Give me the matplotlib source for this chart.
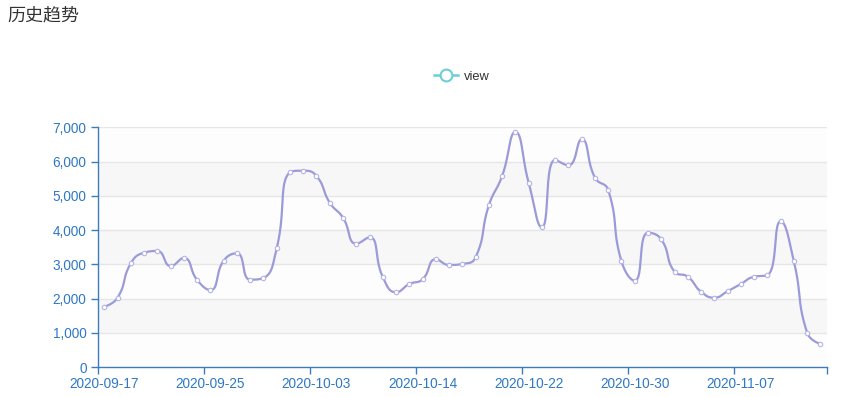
import numpy as np
import matplotlib
matplotlib.use('Agg')
import matplotlib.pyplot as plt
from matplotlib.lines import Line2D

# Data
dates = ['2020-09-17', '2020-09-18', '2020-09-19', '2020-09-20', '2020-09-21', '2020-09-22',
         '2020-09-23', '2020-09-24', '2020-09-25', '2020-09-26', '2020-09-27', '2020-09-28',
         '2020-09-29', '2020-09-30', '2020-10-01', '2020-10-02', '2020-10-03', '2020-10-04',
         '2020-10-08', '2020-10-09', '2020-10-10', '2020-10-11', '2020-10-12', '2020-10-13',
         '2020-10-14', '2020-10-15', '2020-10-16', '2020-10-17', '2020-10-18', '2020-10-19',
         '2020-10-20', '2020-10-21', '2020-10-22', '2020-10-23', '2020-10-24', '2020-10-25',
         '2020-10-26', '2020-10-27', '2020-10-28', '2020-10-29', '2020-10-30', '2020-10-31',
         '2020-11-01', '2020-11-02', '2020-11-03', '2020-11-04', '2020-11-05', '2020-11-06',
         '2020-11-07', '2020-11-08', '2020-11-09', '2020-11-10', '2020-11-11', '2020-11-12',
         '2020-11-13']
views = [1767, 2029, 3032, 3341, 3391, 2953, 3187, 2545, 2254, 3108, 3323, 2554, 2604, 3478,
         5685, 5732, 5577, 4799, 4362, 3604, 3790, 2633, 2187, 2429, 2566, 3149, 2983, 3012,
         3207, 4723, 5577, 6860, 5382, 4082, 6044, 5889, 6647, 5528, 5169, 3090, 2525, 3924,
         3732, 2787, 2641, 2204, 2029, 2216, 2429, 2641, 2682, 4256, 3090, 1009, 679]
y_ticks = [0, 1000, 2000, 3000, 4000, 5000, 6000, 7000]
label_step = 8

axis_color = '#3d7bbd'
label_color = '#2f78c4'
line_color = '#9a9bd8'
legend_color = '#6dcfd6'


def echarts_smooth(xs, ys, sx, sy, smooth=0.5, n=24):
    # cubic bezier smoothing like echarts (with control point constraints), done in pixel space
    px = np.asarray(xs, float) * sx
    py = np.asarray(ys, float) * sy
    m = len(px)
    cp_out = np.zeros((m, 2))
    cp_in = np.zeros((m, 2))
    cp_out[0] = (px[0], py[0])
    cp_in[0] = (px[0], py[0])
    cp_out[-1] = (px[-1], py[-1])
    cp_in[-1] = (px[-1], py[-1])
    for i in range(1, m - 1):
        p = np.array([px[i], py[i]])
        pr = np.array([px[i - 1], py[i - 1]])
        nx = np.array([px[i + 1], py[i + 1]])
        v = nx - pr
        l0 = np.hypot(*(p - pr))
        l1 = np.hypot(*(nx - p))
        r = l1 / (l0 + l1)
        out = p + v * smooth * r
        out = np.minimum(out, np.maximum(nx, p))
        out = np.maximum(out, np.minimum(nx, p))
        inn = p - (out - p) * l0 / l1
        inn = np.minimum(inn, np.maximum(pr, p))
        inn = np.maximum(inn, np.minimum(pr, p))
        out = p + (p - inn) * l1 / l0
        cp_out[i] = out
        cp_in[i] = inn
    t = np.linspace(0, 1, n)[:, None]
    segs = []
    for i in range(m - 1):
        p0 = np.array([px[i], py[i]])
        p3 = np.array([px[i + 1], py[i + 1]])
        c1 = cp_out[i]
        c2 = cp_in[i + 1]
        b = ((1 - t) ** 3) * p0 + 3 * ((1 - t) ** 2) * t * c1 + 3 * (1 - t) * t ** 2 * c2 + t ** 3 * p3
        segs.append(b if i == 0 else b[1:])
    pts = np.vstack(segs)
    return pts[:, 0] / sx, pts[:, 1] / sy


W, H = 850, 397
fig = plt.figure(figsize=(W / 100, H / 100), dpi=100)
left, right, bottom, top = 97.7, 827, 367.3, 127.2
ax = fig.add_axes([left / W, 1 - bottom / H, (right - left) / W, (bottom - top) / H])

n = len(views)
x = np.arange(n)
ax.set_xlim(-0.5, n - 0.5)
ax.set_ylim(y_ticks[0], y_ticks[-1])

# split area bands + grid lines
for k in range(len(y_ticks) - 1):
    ax.axhspan(y_ticks[k], y_ticks[k + 1], color='#f7f7f7' if k % 2 else '#fdfdfd', lw=0, zorder=0)
for yv in y_ticks[1:]:
    ax.axhline(yv, color='#e6e6e6', lw=1, zorder=1)

# smooth line
px_per_x = (right - left) / n
px_per_y = (bottom - top) / (y_ticks[-1] - y_ticks[0])
sxs, sys_ = echarts_smooth(x, views, px_per_x, px_per_y)
ax.plot(sxs, sys_, color=line_color, lw=1.6, zorder=3, solid_capstyle='round')
ax.plot(x, views, ls='none', marker='o', ms=3.2, mfc='white', mec='#b3b4e6', mew=0.8, zorder=4)

# axes styling
for s in ['top', 'right']:
    ax.spines[s].set_visible(False)
for s in ['left', 'bottom']:
    ax.spines[s].set_color(axis_color)
    ax.spines[s].set_linewidth(1)

ax.set_yticks(y_ticks)
ax.set_yticklabels([f'{v:,}' for v in y_ticks])
ax.tick_params(axis='y', length=5, width=1, color=axis_color, labelcolor=label_color,
               labelsize=9.8, pad=3)

label_idx = list(range(0, n, label_step))
boundaries = [i - 0.5 for i in label_idx] + [n - 0.5]
ax.set_xticks(boundaries)
ax.set_xticklabels([''] * len(boundaries))
ax.set_xticks(label_idx, minor=True)
ax.set_xticklabels([dates[i] for i in label_idx], minor=True)
ax.tick_params(axis='x', which='major', length=5, width=1, color=axis_color)
ax.tick_params(axis='x', which='minor', length=0, labelcolor=label_color, labelsize=9.8, pad=7)

for lab in ax.get_xticklabels(minor=True) + ax.get_yticklabels():
    lab.set_fontfamily('Liberation Sans')

# title
fig.text(7 / W, 1 - 6 / H, '历史趋势', fontsize=13, color='#333333', ha='left', va='top',
         family=['Noto Sans CJK SC', 'DejaVu Sans'])

# legend
handle = Line2D([], [], color=legend_color, lw=1.8, marker='o', ms=8.5, mfc='white',
                mec=legend_color, mew=1.5)
leg = fig.legend([handle], ['view'], loc='center', bbox_to_anchor=(462 / W, 1 - 77 / H),
                 frameon=False, handlelength=1.8, handletextpad=0.5,
                 prop={'family': 'Liberation Sans', 'size': 9.3})
for t in leg.get_texts():
    t.set_color('#333333')

fig.savefig('out.png', dpi=100)
